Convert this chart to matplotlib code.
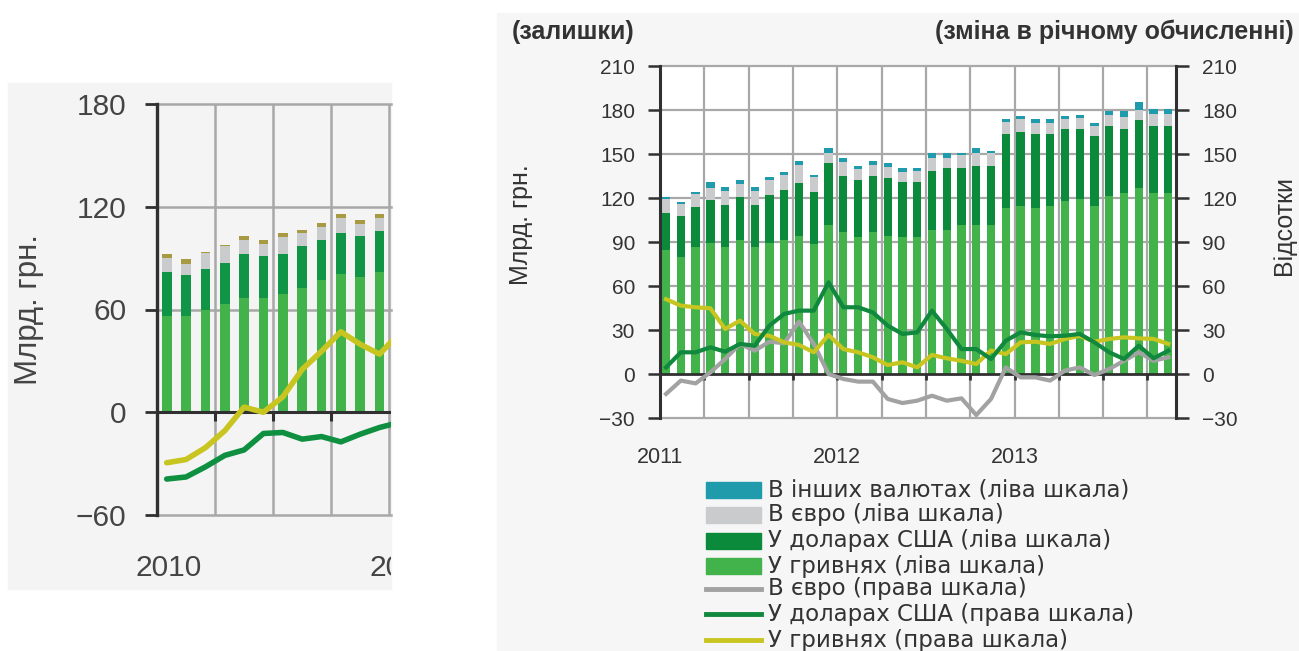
import numpy as np
import matplotlib
matplotlib.use("Agg")
import matplotlib.pyplot as plt
from matplotlib.patches import Rectangle
from matplotlib.lines import Line2D
from matplotlib.transforms import Bbox, TransformedBbox, ScaledTranslation

plt.rcParams['font.family'] = ['Liberation Sans', 'DejaVu Sans']

# ---- right chart: monthly, Jan 2011 - Nov 2013 (left scale, bln UAH) ----
r_uah = [84.8, 79.5, 86.8, 89.0, 86.8, 91.4, 86.8, 89.3, 91.4, 94.3, 88.6, 101.6,
         96.6, 93.2, 96.6, 94.3, 93.2, 93.2, 98.2, 98.2, 101.6, 101.6, 101.6, 113.2,
         114.3, 113.2, 114.3, 118.2, 119.3, 114.3, 121.6, 123.2, 126.6, 123.2, 123.2]
r_usd = [25.2, 28.0, 27.1, 29.9, 28.7, 29.1, 28.7, 33.0, 34.1, 36.2, 35.3, 42.0,
         38.6, 39.1, 38.6, 39.3, 37.5, 37.5, 40.4, 42.0, 38.6, 40.4, 40.4, 50.4,
         50.9, 50.4, 49.3, 48.8, 47.7, 47.7, 47.3, 43.8, 46.8, 45.7, 45.7]
r_eur = [9.0, 8.5, 8.8, 8.1, 9.5, 9.0, 9.5, 10.2, 10.2, 12.0, 10.1, 7.1,
         9.1, 7.5, 7.3, 7.4, 7.3, 7.9, 8.4, 6.8, 9.1, 9.0, 8.7, 8.0,
         8.7, 7.4, 7.4, 6.9, 7.3, 6.9, 7.9, 8.5, 6.6, 8.4, 8.4]
r_oth = [2.0, 1.5, 1.3, 3.7, 2.3, 2.8, 2.3, 1.5, 1.8, 3.0, 1.7, 3.2,
         2.7, 2.2, 3.0, 2.6, 2.5, 1.9, 3.5, 3.5, 1.2, 3.0, 1.6, 2.3,
         1.8, 2.9, 2.9, 1.8, 2.5, 2.0, 2.2, 3.5, 5.7, 3.4, 3.4]
# annual change, % (right scale)
g_eur = [-13.6, -4.5, -6.4, 1.1, 10.2, 20.5, 15.9, 22.0, 21.0, 35.7, 20.5, 0.0,
         -3.4, -5.2, -5.2, -17.0, -19.8, -18.2, -14.8, -18.2, -16.6, -28.0, -17.0, 4.5,
         -2.3, -2.3, -4.5, 2.3, 4.5, -0.7, 3.4, 9.0, 14.8, 9.0, 11.4]
g_usd = [4.5, 14.8, 14.8, 18.2, 15.2, 20.5, 19.3, 33.0, 41.0, 43.2, 43.2, 62.5,
         45.5, 45.5, 42.0, 33.0, 27.3, 28.4, 43.2, 30.7, 17.0, 17.0, 10.2, 22.7,
         28.4, 26.6, 25.7, 26.1, 27.3, 21.6, 14.8, 10.2, 19.3, 10.7, 15.9]
g_uah = [51.0, 46.6, 45.5, 44.8, 30.7, 36.4, 27.3, 26.0, 21.6, 19.8, 14.8, 26.6,
         17.0, 14.8, 11.4, 6.1, 8.0, 4.5, 13.0, 10.7, 9.0, 6.8, 16.0, 13.6,
         21.6, 22.0, 20.5, 23.9, 26.0, 22.0, 23.9, 25.0, 24.3, 23.9, 20.5]
r_years = ['2011', '2012', '2013']

# ---- left (cropped) chart: 2010 ----
l_uah = [56.0, 56.0, 59.6, 63.2, 67.0, 67.0, 69.0, 72.8, 77.0, 80.5, 79.0, 82.0]
l_usd = [26.0, 24.0, 24.1, 24.2, 25.7, 24.0, 23.7, 24.1, 23.8, 24.1, 24.0, 24.0]
l_eur = [8.0, 6.8, 9.3, 9.5, 8.1, 7.3, 9.8, 7.7, 7.6, 8.8, 6.8, 7.6]
l_oth = [2.7, 2.5, 0.5, 0.6, 2.2, 2.1, 2.1, 2.1, 2.1, 2.3, 2.5, 2.3]
lg_usd = [-39.0, -37.8, -31.9, -25.2, -22.0, -12.4, -11.8, -15.7, -14.2, -17.3, -12.8, -8.9, -6.0]
lg_uah = [-29.5, -27.6, -20.7, -10.8, 3.0, 0.0, 9.0, 25.0, 35.6, 47.0, 39.7, 33.9, 46.0]
l_years = ['2010', '2011']

legend_labels = ['В інших валютах (ліва шкала)', 'В євро (ліва шкала)',
                 'У доларах США (ліва шкала)', 'У гривнях (ліва шкала)',
                 'В євро (права шкала)', 'У доларах США (права шкала)',
                 'У гривнях (права шкала)']

C_UAH = '#41b34a'
C_USD = '#0b8a3c'
C_EUR = '#c9cbcd'
C_OTH = '#1f9bab'
C_LEUR = '#a2a2a2'
C_LUSD = '#10883d'
C_LUAH = '#c8c520'
C_GRID = '#a8a8a8'
C_AX = '#303030'
C_TXT = '#333333'

W, H = 1299, 651
fig = plt.figure(figsize=(W / 100, H / 100), dpi=100, facecolor='white')


def rect(x0, y0, x1, y1):
    return [x0 / W, 1 - y1 / H, (x1 - x0) / W, (y1 - y0) / H]


# panel backgrounds
fig.patches.append(Rectangle((8 / W, 1 - 589 / H), 383 / W, 506 / H,
                             transform=fig.transFigure, color='#f4f4f4', zorder=-5))
fig.patches.append(Rectangle((497 / W, 0), 802 / W, 1 - 13 / H,
                             transform=fig.transFigure, color='#f6f6f6', zorder=-5))

# ================= left cropped chart =================
axL = fig.add_axes(rect(157, 104, 391, 515))
axL.set_facecolor('none')
nl = len(l_uah)
xl = np.arange(nl) + 0.5
xll = np.arange(len(lg_usd)) + 0.5
axL.set_xlim(0, 12.09)
axL.set_ylim(-60, 180)
for v in [180, 120, 60, -60]:
    axL.axhline(v, color=C_GRID, lw=1.8, zorder=0, clip_on=False)
for q in [3, 6, 9, 12]:
    axL.axvline(q, color=C_GRID, lw=1.8, zorder=0)
b = np.zeros(nl)
for vals, col in [(l_uah, C_UAH), (l_usd, '#109446'), (l_eur, C_EUR), (l_oth, '#a89a42')]:
    axL.bar(xl, vals, 0.5, bottom=b, color=col, zorder=2, linewidth=0)
    b = b + np.array(vals)
axL.axhline(0, color=C_AX, lw=2.2, zorder=3)
axL.vlines([3, 6, 9], -5, 0, color=C_AX, lw=2.2, zorder=3)
axL.plot(xll, lg_uah, color=C_LUAH, lw=4, zorder=4, solid_capstyle='round')
axL.plot(xll, lg_usd, color='#0f9041', lw=4, zorder=4, solid_capstyle='round')
for s in ['top', 'right', 'bottom']:
    axL.spines[s].set_visible(False)
axL.spines['left'].set_color(C_AX)
axL.spines['left'].set_linewidth(2.4)
axL.set_yticks([-60, 0, 60, 120, 180])
axL.tick_params(axis='y', length=9, width=2, color=C_AX, pad=13,
                labelsize=21.5, labelcolor='#444444')
axL.set_xticks([0, 12])
axL.set_xticklabels(l_years)
axL.tick_params(axis='x', length=0, pad=28, labelsize=21.5, labelcolor='#444444')
clipbox = TransformedBbox(Bbox.from_extents(0, 0, 391 / W, 1), fig.transFigure)
for lab in axL.get_xticklabels():
    lab.set_transform(lab.get_transform() + ScaledTranslation(0.12, 0, fig.dpi_scale_trans))
    lab.set_clip_box(clipbox)
    lab.set_clip_on(True)
axL.set_ylabel('Млрд. грн.', fontsize=22.5, color='#444444')
axL.yaxis.set_label_coords(-0.485, 0.5)

# ================= right chart =================
ax = fig.add_axes(rect(660, 66, 1176, 418))
ax.set_facecolor('white')
n = len(r_uah)
x = np.arange(n) + 0.41
ax.set_xlim(0, 34.93)
ax.set_ylim(-30, 210)
for v in [210, 180, 150, 120, 90, 60, 30, -30]:
    ax.axhline(v, color=C_GRID, lw=1.6, zorder=0, clip_on=False)
for q in range(3, 34, 3):
    ax.axvline(q, color=C_GRID, lw=1.6, zorder=0)
b = np.zeros(n)
for vals, col in [(r_uah, C_UAH), (r_usd, C_USD), (r_eur, C_EUR), (r_oth, C_OTH)]:
    ax.bar(x, vals, 0.56, bottom=b, color=col, zorder=2, linewidth=0)
    b = b + np.array(vals)
ax.axhline(0, color=C_AX, lw=2, zorder=3)
ax.vlines(range(3, 34, 3), -4, 0, color=C_AX, lw=2, zorder=3)
for s in ['top', 'right', 'bottom']:
    ax.spines[s].set_visible(False)
ax.spines['left'].set_color(C_AX)
ax.spines['left'].set_linewidth(2.2)
yt = list(range(-30, 211, 30))
ax.set_yticks(yt)
ax.tick_params(axis='y', length=9, width=1.8, color=C_AX, pad=9,
               labelsize=15, labelcolor=C_TXT)
ax.set_xticks([0, 12, 24])
ax.set_xticklabels(r_years)
ax.tick_params(axis='x', length=0, pad=21, labelsize=15.5, labelcolor=C_TXT)
ax.set_ylabel('Млрд. грн.', fontsize=18, color=C_TXT)
ax.yaxis.set_label_coords(-0.246, 0.548)

ax2 = ax.twinx()
ax2.set_ylim(-30, 210)
ax2.plot(x, g_eur, color=C_LEUR, lw=3, zorder=4)
ax2.plot(x, g_usd, color=C_LUSD, lw=3, zorder=5)
ax2.plot(x, g_uah, color=C_LUAH, lw=3, zorder=4)
for s in ['top', 'left', 'bottom']:
    ax2.spines[s].set_visible(False)
ax2.spines['right'].set_color(C_AX)
ax2.spines['right'].set_linewidth(2.2)
ax2.set_yticks(yt)
ax2.tick_params(axis='y', length=9, width=1.8, color=C_AX, pad=10,
                labelsize=15, labelcolor=C_TXT)
ax2.set_ylabel('Відсотки', fontsize=18, color=C_TXT)
ax2.yaxis.set_label_coords(1.186, 0.548)

fig.text(512 / W, 1 - 32 / H, '(залишки)', fontsize=18, fontweight='bold',
         color=C_TXT, ha='left', va='center')
fig.text(1294 / W, 1 - 32 / H, '(зміна в річному обчисленні)', fontsize=18,
         fontweight='bold', color=C_TXT, ha='right', va='center')

# legend
rows_y = [490, 515, 541, 566, 589, 614, 640]
kinds = [('bar', C_OTH), ('bar', C_EUR), ('bar', C_USD), ('bar', C_UAH),
         ('line', C_LEUR), ('line', C_LUSD), ('line', C_LUAH)]
for yy, (kind, col), lab in zip(rows_y, kinds, legend_labels):
    if kind == 'bar':
        fig.patches.append(Rectangle((706 / W, 1 - (yy + 8) / H), 55 / W, 16 / H,
                                     transform=fig.transFigure, color=col))
    else:
        fig.lines.append(Line2D([706 / W, 761 / W], [1 - yy / H, 1 - yy / H],
                                transform=fig.transFigure, color=col, lw=3.5))
    fig.text(768 / W, 1 - yy / H, lab, fontsize=16.5, color=C_TXT,
             ha='left', va='center', family=['DejaVu Sans'])

fig.savefig('out.png', dpi=100, facecolor=fig.get_facecolor())
